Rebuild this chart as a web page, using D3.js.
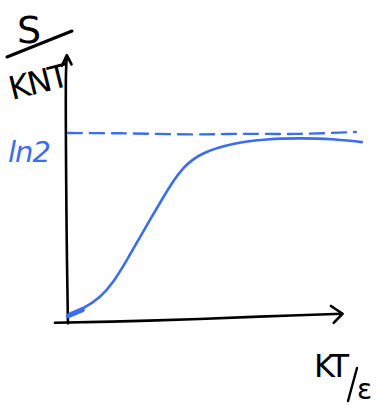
<!DOCTYPE html>
<html>
<head>
<meta charset="utf-8">
<script src="https://cdn.jsdelivr.net/npm/d3@7"></script>
<style>
  html, body { margin: 0; padding: 0; background: #fff; }
  svg { display: block; }
  text { font-family: "DejaVu Sans", sans-serif; }
</style>
</head>
<body>
<div id="chart"></div>
<script>
// sketch of entropy per spin vs temperature (two-level system)
var ln2 = Math.LN2;

// kT/eps values (axis end = 10)
var tempVals = [0.07, 0.14, 0.62, 1.23, 1.70, 2.21, 2.68, 3.04, 3.41, 3.77, 4.24, 4.86, 6.05, 7.28, 8.48, 9.67, 10.72];
// S/kNT values
var entropyVals = [0.007, 0.019, 0.034, 0.075, 0.131, 0.217, 0.303, 0.368, 0.432, 0.495, 0.565, 0.618, 0.656, 0.671, 0.674, 0.671, 0.659];

// dashed asymptote, slightly wobbly like the pen line
var dashT = [0.07, 2.0, 4.5, 6.5, 8.5, 10.5];
var dashS = [0.693, 0.692, 0.688, 0.690, 0.690, 0.697];

var yLabelTop = "S";
var yLabelBottom = "KNT";
var xLabel = "KT";
var xLabelDen = "ε";
var lnLabel = "ln2";

var width = 380, height = 405;
var blue = "#3a6df0";

var svg = d3.select("#chart").append("svg")
    .attr("width", width)
    .attr("height", height);

var x = d3.scaleLinear().domain([0, 10]).range([66, 342]);
var y = d3.scaleLinear().domain([0, ln2]).range([318, 133]);

var pen = d3.line().curve(d3.curveCatmullRom.alpha(0.5));
var smooth = d3.line().curve(d3.curveBasis);

// y axis (slightly tilted) with arrow head
svg.append("path")
    .attr("d", pen([[x(0.07), y(-0.02)], [x(0.02), y(0.35)], [x(0.0), y(0.92)], [x(0.03), y(0.98)]]))
    .attr("fill", "none").attr("stroke", "#000").attr("stroke-width", 2.6)
    .attr("stroke-linecap", "round");
svg.append("path")
    .attr("d", d3.line()([[x(-0.15), y(0.945)], [x(0.03), y(0.985)], [x(0.2), y(0.95)]]))
    .attr("fill", "none").attr("stroke", "#000").attr("stroke-width", 2.6)
    .attr("stroke-linecap", "round").attr("stroke-linejoin", "round");

// x axis with arrow head
svg.append("path")
    .attr("d", pen([[x(-0.4), y(-0.018)], [x(3), y(-0.010)], [x(7), y(0.005)], [x(10), y(0.016)]]))
    .attr("fill", "none").attr("stroke", "#000").attr("stroke-width", 2.6)
    .attr("stroke-linecap", "round");
svg.append("path")
    .attr("d", d3.line()([[x(9.6), y(0.045)], [x(10.02), y(0.016)], [x(9.7), y(-0.018)]]))
    .attr("fill", "none").attr("stroke", "#000").attr("stroke-width", 2.6)
    .attr("stroke-linecap", "round").attr("stroke-linejoin", "round");

// dashed ln2 level
svg.append("path")
    .attr("d", pen(dashT.map(function (d, i) { return [x(d), y(dashS[i])]; })))
    .attr("fill", "none").attr("stroke", blue).attr("stroke-width", 2.4)
    .attr("stroke-dasharray", "14,8").attr("stroke-linecap", "round");

// the entropy curve
svg.append("path")
    .attr("d", smooth(tempVals.map(function (d, i) { return [x(d), y(entropyVals[i])]; })))
    .attr("fill", "none").attr("stroke", blue).attr("stroke-width", 2.6)
    .attr("stroke-linecap", "round");
// little pen blob at origin
svg.append("path")
    .attr("d", d3.line()([[x(0.07), y(0.007)], [x(0.6), y(0.03)]]))
    .attr("fill", "none").attr("stroke", blue).attr("stroke-width", 4.5)
    .attr("stroke-linecap", "round");

// ln2 label
svg.append("text")
    .attr("x", 8).attr("y", y(ln2) + 29)
    .attr("fill", blue)
    .attr("font-size", 29)
    .attr("font-style", "italic")
    .attr("letter-spacing", -1)
    .text(lnLabel);

// y label: S over KNT, fraction bar slanted
svg.append("text")
    .attr("x", 17).attr("y", 43)
    .attr("font-size", 38)
    .text(yLabelTop);
svg.append("line")
    .attr("x1", 7).attr("y1", 57).attr("x2", 72).attr("y2", 31)
    .attr("stroke", "#000").attr("stroke-width", 3).attr("stroke-linecap", "round");
svg.append("text")
    .attr("transform", "translate(12,100) rotate(-14)")
    .attr("font-size", 32)
    .attr("letter-spacing", -2)
    .text(yLabelBottom);

// x label: KT / eps
svg.append("text")
    .attr("x", 314).attr("y", 377)
    .attr("font-size", 32)
    .attr("letter-spacing", -3)
    .text(xLabel);
svg.append("line")
    .attr("x1", 348).attr("y1", 401).attr("x2", 357).attr("y2", 368)
    .attr("stroke", "#000").attr("stroke-width", 2.4).attr("stroke-linecap", "round");
svg.append("text")
    .attr("x", 357).attr("y", 399)
    .attr("font-size", 28)
    .text(xLabelDen);
</script>
</body>
</html>
